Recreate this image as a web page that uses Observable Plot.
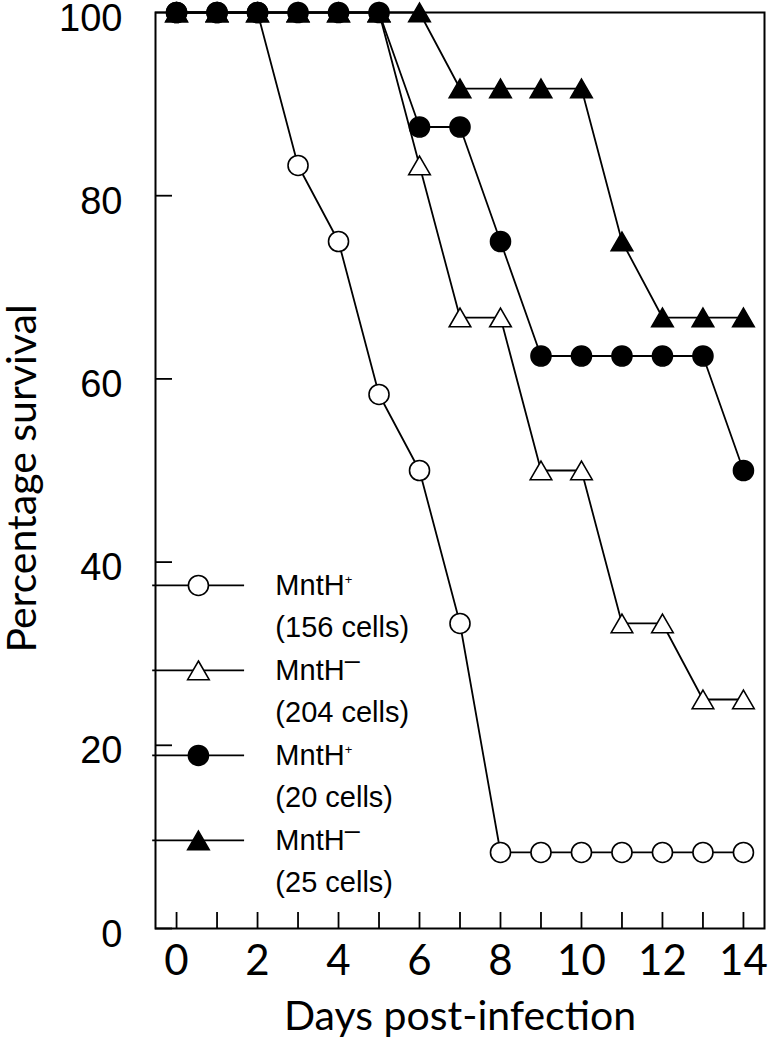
<!DOCTYPE html>
<html>
<head>
<meta charset="utf-8">
<script src="https://cdn.jsdelivr.net/npm/d3@7"></script>
<script src="https://cdn.jsdelivr.net/npm/@observablehq/plot@0.6"></script>
<style>
  html, body { margin: 0; padding: 0; background: #fff; }
  #chart svg { display: block; }
</style>
</head>
<body>
<div id="chart"></div>
<script>
// ---- data ----
const days = [0, 1, 2, 3, 4, 5, 6, 7, 8, 9, 10, 11, 12, 13, 14];
const mnthPlus156 = [100, 100, 100, 83.3, 75, 58.3, 50, 33.3, 8.3, 8.3, 8.3, 8.3, 8.3, 8.3, 8.3];
const mnthMinus204 = [100, 100, 100, 100, 100, 100, 83.3, 66.7, 66.7, 50, 50, 33.3, 33.3, 25, 25];
const mnthPlus20 = [100, 100, 100, 100, 100, 100, 87.5, 87.5, 75, 62.5, 62.5, 62.5, 62.5, 62.5, 50];
const mnthMinus25 = [100, 100, 100, 100, 100, 100, 100, 91.7, 91.7, 91.7, 91.7, 75, 66.7, 66.7, 66.7];
const seriesNames = ["MntH+", "MntH−", "MntH+", "MntH−"];
const seriesCells = ["(156 cells)", "(204 cells)", "(20 cells)", "(25 cells)"];
const xTicks = [0, 1, 2, 3, 4, 5, 6, 7, 8, 9, 10, 11, 12, 13, 14];
const xTickLabels = [0, 2, 4, 6, 8, 10, 12, 14];
const yTicks = [0, 20, 40, 60, 80, 100];
const xTitle = "Days post-infection";
const yTitle = "Percentage survival";

// ---- styles ----
const styles = [
  {symbol: "circle", fill: "white", r: 10, dy: 0},
  {symbol: "triangle", fill: "white", r: 8, dy: 3},
  {symbol: "circle", fill: "black", r: 10, dy: 0},
  {symbol: "triangle", fill: "black", r: 8, dy: 3}
];
const valuesList = [mnthPlus156, mnthMinus204, mnthPlus20, mnthMinus25];
const series = valuesList.map((vals, s) => days.map((d, i) => ({day: d, v: vals[i], s})));

// legend layout (in scale units)
const legendTop = 37.45, legendStep = 9.28, legendSub = 4.64;
const legend = seriesNames.map((n, i) => ({
  name: n, cells: seriesCells[i], i,
  y: legendTop - i * legendStep
}));

const font = "'Liberation Sans', Arial, sans-serif";
const font2 = "Lato, 'Open Sans', sans-serif";
const lw = 1.8;

const marks = [];
// lines
series.forEach(data => marks.push(Plot.line(data, {x: "day", y: "v", stroke: "black", strokeWidth: lw})));
// markers
series.forEach((data, s) => marks.push(Plot.dot(data, {
  x: "day", y: "v", symbol: styles[s].symbol, r: styles[s].r, dy: styles[s].dy,
  fill: styles[s].fill, stroke: "black", strokeWidth: 1.6
})));
// legend
marks.push(Plot.ruleY(legend, {y: "y", x1: -0.59, x2: 1.68, stroke: "black", strokeWidth: lw, clip: false}));
legend.forEach((d, i) => marks.push(Plot.dot([d], {
  x: 0.54, y: "y", symbol: styles[i].symbol, r: styles[i].r, dy: styles[i].dy,
  fill: styles[i].fill, stroke: "black", strokeWidth: 1.6
})));
marks.push(Plot.text(legend, {x: 2.44, y: "y", text: "name", textAnchor: "start", fontSize: 29, fontFamily: font, fill: "black", className: "legname"}));
marks.push(Plot.text(legend, {x: 2.44, y: d => d.y - legendSub, text: "cells", textAnchor: "start", fontSize: 29, fontFamily: font, fill: "black"}));

// axes
marks.push(Plot.axisY({ticks: yTicks, tickSize: -17, tickFormat: () => "", label: null, strokeWidth: lw}));
marks.push(Plot.axisY({ticks: yTicks, tickSize: 0, tickPadding: 33, dy: 6, fontSize: 38, fontFamily: font, label: null}));
marks.push(Plot.axisX({ticks: xTicks, tickSize: -16, tickFormat: () => "", label: null, strokeWidth: lw}));
marks.push(Plot.axisX({ticks: xTickLabels, tickSize: 0, tickPadding: 17, fontSize: 42, fontFamily: font2, label: null}));
marks.push(Plot.frame({stroke: "black", strokeWidth: 2}));
// titles
marks.push(Plot.text([yTitle], {frameAnchor: "left", dx: -133, dy: 8, rotate: -90, textAnchor: "middle", lineAnchor: "middle", fontSize: 41, fontFamily: font2, fill: "black"}));
marks.push(Plot.text([xTitle], {frameAnchor: "bottom", dy: 88, textAnchor: "middle", lineAnchor: "middle", fontSize: 41, fontFamily: font2, fill: "black"}));

const chart = Plot.plot({
  width: 768,
  height: 1040,
  marginLeft: 155,
  marginRight: 4,
  marginTop: 12,
  marginBottom: 112,
  x: {domain: [-0.52, 14.52]},
  y: {domain: [0, 100]},
  style: {background: "white", color: "black", overflow: "visible"},
  marks
});

// superscripts for legend names
d3.select(chart).selectAll(".legname text").each(function() {
  const t = d3.select(this);
  const s = t.text();
  const sign = s.slice(4);
  t.text("MntH");
  if (sign === "+") {
    t.append("tspan").attr("font-size", 13).attr("dy", -11).text("+");
  } else {
    t.append("tspan").attr("font-size", 27).attr("dy", -11).text("–");
  }
});

document.getElementById("chart").appendChild(chart);
</script>
</body>
</html>
